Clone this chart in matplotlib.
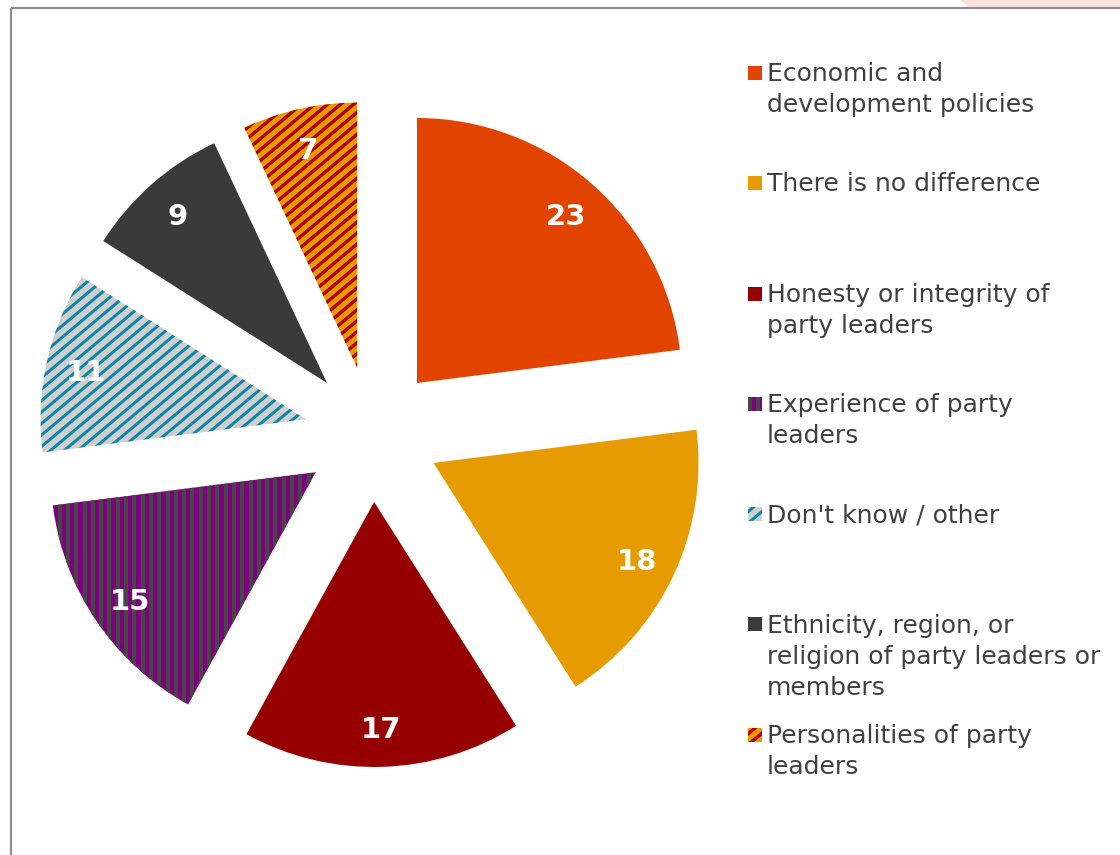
import numpy as np
import matplotlib.pyplot as plt
from matplotlib.patches import Rectangle, Polygon
from matplotlib.collections import LineCollection

# Survey shares (percent), clockwise from 12 o'clock
categories = ['Economic and\ndevelopment policies',
              'There is no difference',
              'Honesty or integrity of\nparty leaders',
              'Experience of party\nleaders',
              "Don't know / other",
              'Ethnicity, region, or\nreligion of party leaders or\nmembers',
              'Personalities of party\nleaders']
values = [23, 18, 17, 15, 11, 9, 7]

# face colour, then stripe colour / angle / period px / width px (None = plain)
face_colors = ['#e24400', '#e69c00', '#960000', '#7f007f', '#cfcfcf', '#3a3a3a', '#e69c00']
stripes = [None, None, None,
           ('#464646', 90, 8.3, 4.0),
           ('#0e86a8', 40, 8.8, 3.0),
           None,
           ('#b00000', 40, 8.4, 3.4)]

W, H = 1120, 855
fig = plt.figure(figsize=(W / 100, H / 100), dpi=100)
ax = fig.add_axes([0, 0, 1, 1])


def add_stripes(patch, cx, cy, spec, reach):
    # parallel lines across the patch, clipped to it (1 data unit = 1 px)
    color, ang, period, width = spec
    a = np.radians(ang)
    d = np.array([np.cos(a), np.sin(a)])
    n = np.array([-np.sin(a), np.cos(a)])
    segs = []
    for k in np.arange(-reach, reach + period, period):
        p = np.array([cx, cy]) + k * n
        segs.append([p - reach * d, p + reach * d])
    lc = LineCollection(segs, colors=color, linewidths=width * 0.72)
    ax.add_collection(lc)
    lc.set_clip_path(patch)


# explode is in data units (pixels here), label distance relative to radius
wedges, texts, autotexts = ax.pie(
    values, center=(372, H - 434), radius=265, explode=[68] * len(values),
    startangle=90, counterclock=False, frame=True,
    autopct='%.0f', pctdistance=0.85,
    textprops=dict(color='white', fontsize=21, fontweight='bold', family='DejaVu Sans'))

for w, fc, st in zip(wedges, face_colors, stripes):
    w.set_facecolor(fc)
    w.set_linewidth(0)
    if st:
        add_stripes(w, w.center[0], w.center[1], st, 300)

for t in autotexts:
    x, y = t.get_position()
    t.set_position((x, y - 3))
    t.set_zorder(5)

ax.set_xlim(0, W)
ax.set_ylim(0, H)
ax.axis('off')

# legend, drawn by hand so the marker sits on the first text line
for i, (lab, fc, st) in enumerate(zip(categories, face_colors, stripes)):
    y = H - (73 + i * 110.3)
    r = Rectangle((748, y - 7), 14, 14, facecolor=fc, linewidth=0)
    ax.add_patch(r)
    if st:
        add_stripes(r, 755, y, st, 20)
    ax.text(767, y + 11, lab, ha='left', va='top', fontsize=18,
            color='#404040', family='DejaVu Sans', linespacing=1.38)

# frame lines and the shape poking in at the top right
ax.plot([11, W], [H - 8, H - 8], color='#8f8f8f', lw=1.6, solid_capstyle='butt')
ax.plot([11, 11], [0, H - 8], color='#8f8f8f', lw=1.6, solid_capstyle='butt')
ax.add_patch(Polygon([(960, H), (W, H), (W, H - 7), (968, H - 7)],
                     closed=True, facecolor='#fbe2da', edgecolor='none'))

fig.savefig('out.png', dpi=100)
